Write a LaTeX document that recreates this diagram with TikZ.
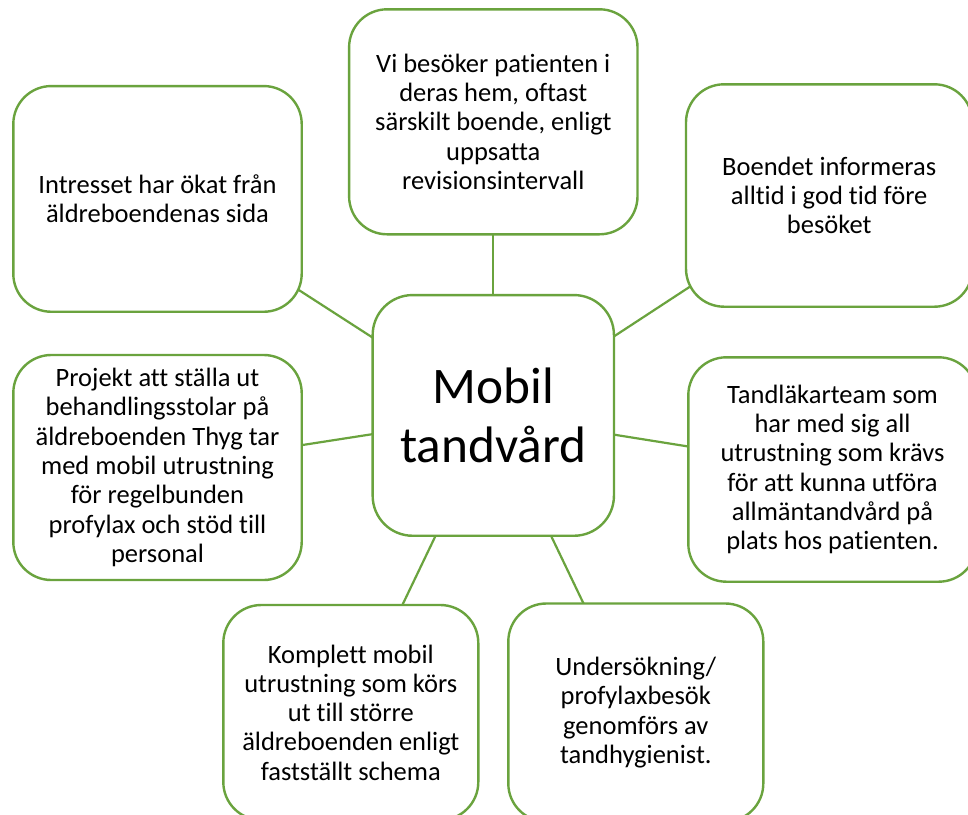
\documentclass[tikz,border=0pt]{standalone}
\usepackage{fontspec}
\setmainfont{Carlito}[Ligatures=NoCommon]
\usetikzlibrary{backgrounds}
\definecolor{leaf}{RGB}{106,163,62}
\begin{document}
\begin{tikzpicture}[x=1pt,y=-1pt,
  box/.style={draw=leaf, line width=2.4pt, fill=white, rounded corners=38pt,
    inner sep=0pt, align=center, text=black,
    font=\fontsize{26.5pt}{29.3pt}\selectfont},
  hubbox/.style={box, rounded corners=40pt,
    font=\fontsize{51.3pt}{58.3pt}\selectfont},
  link/.style={draw=leaf, line width=2.2pt}]
\useasboundingbox (0,0) rectangle (968,814);

% central topic
\node[hubbox, minimum width=241.3pt, minimum height=240.7pt] (hub) at (493.3,415.4)
  {Mobil\\tandvård};

% surrounding topics
\node[box, minimum width=288.4pt, minimum height=225pt] (visit) at (493.3,121.8)
  {Vi besöker patienten i\\deras hem, oftast\\särskilt boende, enligt\\uppsatta\\revisionsintervall};
\node[box, minimum width=288.4pt, minimum height=225.7pt] (interest) at (157.5,198.9)
  {Intresset har ökat från\\äldreboendenas sida};
\node[box, minimum width=286.4pt, minimum height=222.4pt] (inform) at (829.2,195.5)
  {Boendet informeras\\alltid i god tid före\\besöket};
\node[box, minimum width=288.4pt, minimum height=225pt] (chairs) at (157.5,467.5)
  {Projekt att ställa ut\\behandlingsstolar på\\äldreboenden Thyg tar\\med mobil utrustning\\för regelbunden\\profylax och stöd till\\personal};
\node[box, minimum width=288.4pt, minimum height=224.4pt] (team) at (832.5,469.5)
  {Tandläkarteam som\\har med sig all\\utrustning som krävs\\för att kunna utföra\\allmäntandvård på\\plats hos patienten.};
\node[box, minimum width=255pt, minimum height=215pt] (unit) at (350.8,712.5)
  {Komplett mobil\\utrustning som körs\\ut till större\\äldreboenden enligt\\fastställt schema};
\node[box, minimum width=255pt, minimum height=218pt] (hyg) at (635.8,712.5)
  {Undersökning/\\profylaxbesök\\genomförs av\\tandhygienist.};

% spokes run centre to centre; the white boxes hide the inner parts
\begin{pgfonlayer}{background}
  \fill[white] (0,0) rectangle (968,814);
  \foreach \t in {visit,interest,inform,chairs,team,unit,hyg}
    \draw[link] (hub.center) -- (\t.center);
\end{pgfonlayer}
\end{tikzpicture}
\end{document}
